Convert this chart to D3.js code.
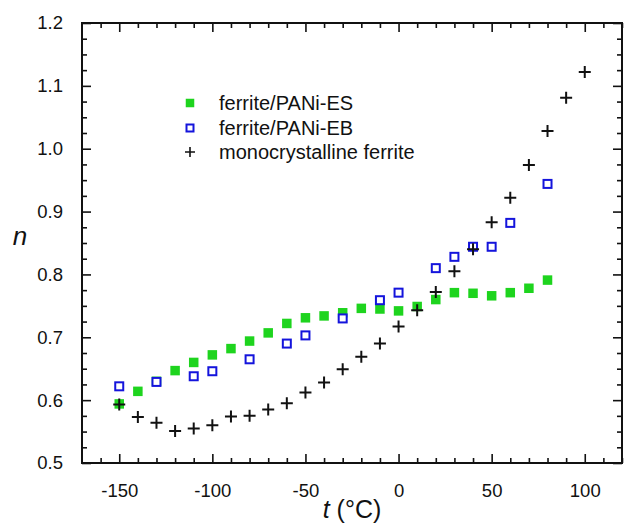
<!DOCTYPE html>
<html>
<head>
<meta charset="utf-8">
<script src="https://cdn.jsdelivr.net/npm/d3@7"></script>
<style>
  html, body { margin: 0; padding: 0; background: #fff; }
  svg { display: block; }
  text { font-family: "Liberation Sans", Arial, sans-serif; fill: #111; }
</style>
</head>
<body>
<svg id="chart" width="625" height="524"></svg>
<script>
// Temperature grid (°C) for each series
const tempES = [-150, -140, -130, -120, -110, -100, -90, -80, -70, -60, -50, -40, -30, -20, -10, 0, 10, 20, 30, 40, 50, 60, 70, 80];
const nES    = [0.594, 0.614, 0.630, 0.647, 0.660, 0.672, 0.682, 0.694, 0.707, 0.722, 0.731, 0.734, 0.739, 0.746, 0.745, 0.742, 0.749, 0.760, 0.771, 0.770, 0.766, 0.771, 0.778, 0.791];

const tempEB = [-150, -130, -110, -100, -80, -60, -50, -30, -10, 0, 20, 30, 40, 50, 60, 80];
const nEB    = [0.622, 0.629, 0.638, 0.646, 0.665, 0.690, 0.703, 0.730, 0.759, 0.771, 0.810, 0.828, 0.844, 0.844, 0.882, 0.944];

const tempMono = [-150, -140, -130, -120, -110, -100, -90, -80, -70, -60, -50, -40, -30, -20, -10, 0, 10, 20, 30, 40, 50, 60, 70, 80, 90, 100];
const nMono    = [0.593, 0.573, 0.564, 0.551, 0.555, 0.560, 0.574, 0.575, 0.585, 0.595, 0.612, 0.628, 0.649, 0.669, 0.690, 0.717, 0.743, 0.772, 0.805, 0.840, 0.883, 0.922, 0.974, 1.028, 1.081, 1.122];

const seriesNames = ["ferrite/PANi-ES", "ferrite/PANi-EB", "monocrystalline ferrite"];

const xMajor = [-150, -100, -50, 0, 50, 100];
const yMajor = [0.5, 0.6, 0.7, 0.8, 0.9, 1.0, 1.1, 1.2];

const xDomain = [-170, 120];
const yDomain = [0.5, 1.2];

const svg = d3.select("#chart");
const plotL = 82, plotR = 622, plotT = 23, plotB = 463;

const x = d3.scaleLinear().domain(xDomain).range([plotL, plotR]);
const y = d3.scaleLinear().domain(yDomain).range([plotB, plotT]);

const xMinor = d3.range(-160, 121, 10).filter(v => !xMajor.includes(v));
const yMinor = d3.range(0, 29).map(i => +(0.5 + i * 0.025).toFixed(3))
  .filter(v => !yMajor.some(m => Math.abs(m - v) < 1e-6));

const MAJ = 9, MIN = 5;

function styleAxis(g) {
  g.select(".domain").remove();
  g.selectAll(".tick line").attr("stroke", "#111").attr("stroke-width", 1.6);
  g.selectAll(".tick text").style("font-size", "18.5px").attr("fill", "#111");
}

// bottom axis with labels
svg.append("g").attr("transform", `translate(0,${plotB})`)
  .call(d3.axisBottom(x).tickValues(xMajor).tickSize(-MAJ).tickPadding(MAJ + 12).tickFormat(d => String(d)))
  .call(styleAxis);
svg.append("g").attr("transform", `translate(0,${plotB})`)
  .call(d3.axisBottom(x).tickValues(xMinor).tickSize(-MIN).tickFormat(""))
  .call(styleAxis);
// top axis
svg.append("g").attr("transform", `translate(0,${plotT})`)
  .call(d3.axisTop(x).tickValues(xMajor).tickSize(-MAJ).tickFormat(""))
  .call(styleAxis);
svg.append("g").attr("transform", `translate(0,${plotT})`)
  .call(d3.axisTop(x).tickValues(xMinor).tickSize(-MIN).tickFormat(""))
  .call(styleAxis);
// left axis with labels
svg.append("g").attr("transform", `translate(${plotL},0)`)
  .call(d3.axisLeft(y).tickValues(yMajor).tickSize(-MAJ).tickPadding(MAJ + 10).tickFormat(d3.format(".1f")))
  .call(styleAxis);
svg.append("g").attr("transform", `translate(${plotL},0)`)
  .call(d3.axisLeft(y).tickValues(yMinor).tickSize(-MIN).tickFormat(""))
  .call(styleAxis);
// right axis
svg.append("g").attr("transform", `translate(${plotR},0)`)
  .call(d3.axisRight(y).tickValues(yMajor).tickSize(-MAJ).tickFormat(""))
  .call(styleAxis);
svg.append("g").attr("transform", `translate(${plotR},0)`)
  .call(d3.axisRight(y).tickValues(yMinor).tickSize(-MIN).tickFormat(""))
  .call(styleAxis);

// frame
svg.append("rect")
  .attr("x", plotL).attr("y", plotT)
  .attr("width", plotR - plotL).attr("height", plotB - plotT)
  .attr("fill", "none").attr("stroke", "#111").attr("stroke-width", 2);

// axis titles
const xt = svg.append("text")
  .attr("x", (plotL + plotR) / 2).attr("y", 518)
  .attr("text-anchor", "middle").style("font-size", "25px");
xt.append("tspan").style("font-style", "italic").text("t");
xt.append("tspan").text(" (°C)");

svg.append("text")
  .attr("x", 20).attr("y", 245)
  .attr("text-anchor", "middle").style("font-size", "26px").style("font-style", "italic")
  .text("n");

const GREEN = "#1ed41e", BLUE = "#1414dc";

function drawFilledSquare(g, cx, cy, s) {
  g.append("rect").attr("x", cx - s / 2).attr("y", cy - s / 2)
    .attr("width", s).attr("height", s).attr("fill", GREEN);
}
function drawOpenSquare(g, cx, cy, s) {
  g.append("rect").attr("x", cx - s / 2).attr("y", cy - s / 2)
    .attr("width", s).attr("height", s).attr("fill", "#fff")
    .attr("stroke", BLUE).attr("stroke-width", 2);
}
function drawCross(g, cx, cy, s, w) {
  g.append("path").attr("d", `M${cx - s / 2},${cy}H${cx + s / 2}M${cx},${cy - s / 2}V${cy + s / 2}`)
    .attr("stroke", "#111").attr("stroke-width", w).attr("fill", "none");
}

const plot = svg.append("g");
const gES = plot.append("g");
tempES.forEach((t, i) => drawFilledSquare(gES, x(t), y(nES[i]), 9.5));
const gEB = plot.append("g");
tempEB.forEach((t, i) => drawOpenSquare(gEB, x(t), y(nEB[i]), 8));
const gMono = plot.append("g");
tempMono.forEach((t, i) => drawCross(gMono, x(t), y(nMono[i]), 12, 2));

// legend
const lg = svg.append("g");
const lx = 190, ly = [103, 128, 152], tx = 219;
drawFilledSquare(lg, lx, ly[0], 8.5);
drawOpenSquare(lg, lx, ly[1], 7);
drawCross(lg, lx, ly[2], 10, 1.6);
seriesNames.forEach((s, i) => {
  lg.append("text").attr("x", tx).attr("y", ly[i]).attr("dy", "0.35em")
    .style("font-size", "20px").text(s);
});
</script>
</body>
</html>
